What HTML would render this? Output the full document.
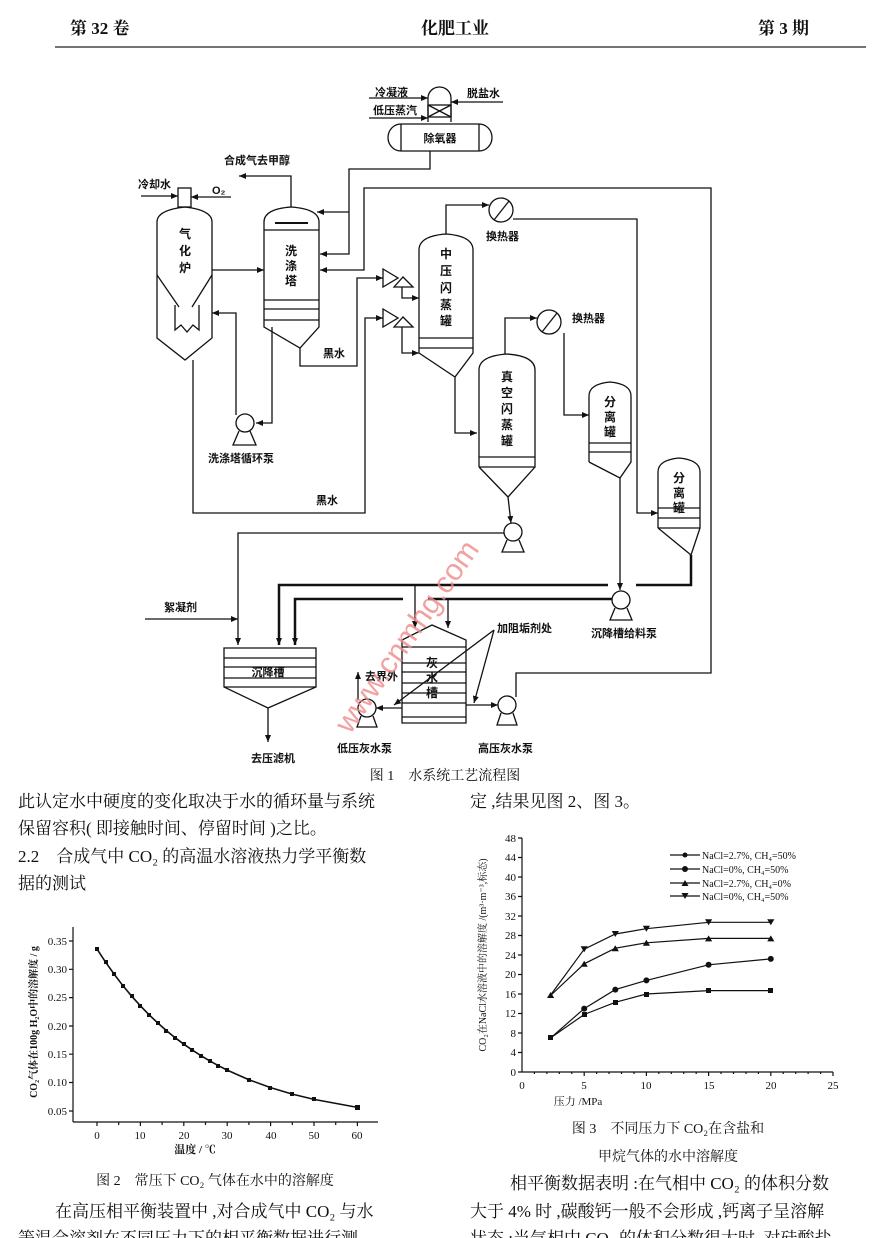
<!DOCTYPE html>
<html><head><meta charset="utf-8">
<style>
html,body{margin:0;padding:0;background:#fff;}
svg{display:block;}
.b{font-family:"Liberation Serif","Noto Serif CJK SC",serif;font-size:17px;fill:#111;}
.d{font-family:"Liberation Sans","Noto Sans CJK SC",sans-serif;font-size:11px;font-weight:bold;fill:#111;}
.v{font-family:"Liberation Sans","Noto Sans CJK SC",sans-serif;font-size:12px;font-weight:bold;fill:#111;text-anchor:middle;}
.t{font-family:"Liberation Serif","Noto Serif CJK SC",serif;font-size:11px;fill:#111;}
.c{font-family:"Liberation Serif","Noto Serif CJK SC",serif;font-size:14px;fill:#111;}
</style></head><body>
<svg width="888" height="1238" viewBox="0 0 888 1238" xmlns="http://www.w3.org/2000/svg">
<defs>
<marker id="a" markerWidth="7" markerHeight="6" refX="7" refY="3" orient="auto" markerUnits="userSpaceOnUse"><path d="M0,0 L7,3 L0,6 z" fill="#111"/></marker>
</defs>
<!-- header -->
<text x="70" y="34" class="b" style="font-weight:bold">第 32 卷</text>
<text x="455" y="34" class="b" text-anchor="middle" style="font-weight:bold">化肥工业</text>
<text x="758" y="34" class="b" style="font-weight:bold">第 3 期</text>
<line x1="55" y1="47" x2="866" y2="47" stroke="#222" stroke-width="1.2"/>

<g fill="none" stroke="#111" stroke-width="1.3">
<!-- deaerator -->
<path d="M428,122 V98 A11.5,11 0 0 1 451,98 V122"/>
<rect x="428" y="105" width="23" height="12"/>
<line x1="428" y1="105" x2="451" y2="117"/><line x1="451" y1="105" x2="428" y2="117"/>
<path d="M401,124 H479 A13,13.5 0 0 1 479,151 H401 A13,13.5 0 0 1 401,124 Z"/>
<line x1="401" y1="124" x2="401" y2="151"/><line x1="479" y1="124" x2="479" y2="151"/>
<line x1="369" y1="98" x2="428" y2="98" marker-end="url(#a)"/>
<line x1="369" y1="118" x2="428" y2="118" marker-end="url(#a)"/>
<line x1="503" y1="102" x2="451" y2="102" marker-end="url(#a)"/>
<polyline points="430,151 430,169 349,169 349,254 320,254" marker-end="url(#a)"/>
<line x1="349" y1="212" x2="317" y2="212" marker-end="url(#a)"/>
<!-- big loop -->
<polyline points="516,697 516,673 711,673 711,188 364,188 364,270 320,270" marker-end="url(#a)"/>
<!-- gasifier -->
<rect x="178" y="188" width="13" height="19"/>
<line x1="141" y1="196" x2="178" y2="196" marker-end="url(#a)"/>
<line x1="231" y1="197" x2="191" y2="197" marker-end="url(#a)"/>
<path d="M157,338 V222 Q157,210 185,207 Q212,210 212,222 V338 L185,360 Z"/>
<polyline points="157,275 179,307"/><polyline points="212,275 192,307"/>
<polyline points="175,305 175,330 181,325 187,332 193,325 199,330 199,305"/>
<line x1="212" y1="270" x2="264" y2="270" marker-end="url(#a)"/>
<!-- wash tower -->
<path d="M264,327 V222 Q264,209 291,207 Q319,209 319,222 V327 L300,348 Z"/>
<line x1="275" y1="223" x2="308" y2="223" stroke-width="2"/>
<line x1="264" y1="230" x2="319" y2="230"/>
<line x1="264" y1="300" x2="319" y2="300"/><line x1="264" y1="309" x2="319" y2="309"/><line x1="264" y1="320" x2="319" y2="320"/>
<polyline points="291,207 291,176 239,176" marker-end="url(#a)"/>
<polyline points="300,348 300,366 357,366 357,278 383,278" marker-end="url(#a)"/>
<polyline points="193,360 193,513 365,513 365,318 383,318" marker-end="url(#a)"/>
<!-- wash pump -->
<polyline points="272,327 272,423 256,423" marker-end="url(#a)"/>
<polyline points="236,415 236,313 212,313" marker-end="url(#a)"/>
<circle cx="245" cy="423" r="9"/><path d="M239,431 L233,445 H256 L250,431"/>
<!-- ejectors -->
<path d="M383,269 L398,278 L383,287 Z"/><path d="M394,287 L403,277 L413,287 Z"/>
<path d="M383,309 L398,318 L383,327 Z"/><path d="M394,327 L403,317 L413,327 Z"/>
<polyline points="402,287 402,298 419,298" marker-end="url(#a)"/>
<polyline points="402,327 402,353 419,353" marker-end="url(#a)"/>
<!-- MP flash -->
<path d="M419,353 V250 Q419,236 446,234 Q473,236 473,250 V353 L455,377 L419,353"/>
<line x1="419" y1="338" x2="473" y2="338"/><line x1="419" y1="348" x2="473" y2="348"/>
<polyline points="446,234 446,205 489,205" marker-end="url(#a)"/>
<circle cx="501" cy="210" r="12"/><line x1="494" y1="220" x2="509" y2="201"/>
<polyline points="513,219 637,219 637,513 658,513" marker-end="url(#a)"/>
<polyline points="455,377 455,433 477,433" marker-end="url(#a)"/>
<!-- vacuum flash -->
<path d="M479,467 V370 Q479,356 507,354 Q535,356 535,370 V467 L508,497 L479,467"/>
<line x1="479" y1="457" x2="535" y2="457"/><line x1="479" y1="467" x2="535" y2="467"/>
<polyline points="505,354 505,318 537,318" marker-end="url(#a)"/>
<circle cx="549" cy="322" r="12"/><line x1="542" y1="332" x2="557" y2="313"/>
<polyline points="564,333 564,415 589,415" marker-end="url(#a)"/>
<line x1="508" y1="497" x2="511" y2="523" marker-end="url(#a)"/>
<circle cx="513" cy="532" r="9"/><path d="M507,540 L502,552 H524 L519,540"/>
<polyline points="504,533 238,533 238,645" marker-end="url(#a)"/>
<!-- separator 1 -->
<path d="M589,462 V396 Q589,384 610,382 Q631,384 631,396 V462 L620,478 L589,462"/>
<line x1="589" y1="443" x2="631" y2="443"/><line x1="589" y1="452" x2="631" y2="452"/>
<line x1="620" y1="478" x2="620" y2="590" marker-end="url(#a)"/>
<circle cx="621" cy="600" r="9"/><path d="M615,608 L610,620 H632 L627,608"/>
<!-- separator 2 -->
<path d="M658,528 V472 Q658,460 679,458 Q700,460 700,472 V528 L691,555 L658,528"/>
<line x1="658" y1="508" x2="700" y2="508"/><line x1="658" y1="518" x2="700" y2="518"/><line x1="658" y1="528" x2="700" y2="528"/>
<!-- thick lines -->
<polyline points="691,555 691,585 636,585" stroke-width="2.5"/>
<polyline points="608,585 279,585 279,645" stroke-width="2.5" marker-end="url(#a)"/>
<polyline points="612,599 428,599" stroke-width="2.5"/>
<polyline points="403,599 295,599 295,645" stroke-width="2.5" marker-end="url(#a)"/>
<line x1="415" y1="585" x2="415" y2="628" marker-end="url(#a)"/>
<line x1="448" y1="599" x2="448" y2="628" marker-end="url(#a)"/>
<line x1="145" y1="619" x2="238" y2="619" marker-end="url(#a)"/>
<!-- settler -->
<path d="M224,648 H316 V687 L268,708 L224,687 Z"/>
<line x1="224" y1="658" x2="316" y2="658"/><line x1="224" y1="667" x2="316" y2="667"/><line x1="224" y1="678" x2="316" y2="678"/><line x1="224" y1="687" x2="316" y2="687"/>
<line x1="268" y1="708" x2="268" y2="742" marker-end="url(#a)"/>
<!-- ash tank -->
<path d="M402,723 V640 L432,625 L466,640 V723 Z"/>
<line x1="402" y1="647" x2="466" y2="647"/><line x1="402" y1="663" x2="466" y2="663"/><line x1="402" y1="672" x2="466" y2="672"/><line x1="402" y1="683" x2="466" y2="683"/><line x1="402" y1="693" x2="466" y2="693"/><line x1="402" y1="703" x2="466" y2="703"/><line x1="402" y1="717" x2="466" y2="717"/>
<line x1="494" y1="630" x2="394" y2="705" marker-end="url(#a)"/>
<line x1="494" y1="630" x2="474" y2="703" marker-end="url(#a)"/>
<line x1="402" y1="708" x2="376" y2="708" marker-end="url(#a)"/>
<circle cx="367" cy="708" r="9"/><path d="M361,716 L357,727 H377 L373,716"/>
<line x1="358" y1="700" x2="358" y2="672" marker-end="url(#a)"/>
<line x1="466" y1="705" x2="498" y2="705" marker-end="url(#a)"/>
<circle cx="507" cy="705" r="9"/><path d="M501,713 L497,725 H517 L513,713"/>
</g>
<!-- diagram labels -->
<text x="375" y="96" class="d">冷凝液</text>
<text x="373" y="114" class="d">低压蒸汽</text>
<text x="467" y="97" class="d">脱盐水</text>
<text x="440" y="142" class="d" text-anchor="middle">除氧器</text>
<text x="224" y="164" class="d">合成气去甲醇</text>
<text x="138" y="188" class="d">冷却水</text>
<text x="212" y="194" class="d">O₂</text>
<text x="185" y="238" class="v">气</text><text x="185" y="255" class="v">化</text><text x="185" y="272" class="v">炉</text>
<text x="291" y="255" class="v">洗</text><text x="291" y="270" class="v">涤</text><text x="291" y="285" class="v">塔</text>
<text x="446" y="258" class="v">中</text><text x="446" y="275" class="v">压</text><text x="446" y="292" class="v">闪</text><text x="446" y="309" class="v">蒸</text><text x="446" y="325" class="v">罐</text>
<text x="507" y="381" class="v">真</text><text x="507" y="397" class="v">空</text><text x="507" y="413" class="v">闪</text><text x="507" y="429" class="v">蒸</text><text x="507" y="445" class="v">罐</text>
<text x="610" y="406" class="v">分</text><text x="610" y="421" class="v">离</text><text x="610" y="436" class="v">罐</text>
<text x="679" y="482" class="v">分</text><text x="679" y="497" class="v">离</text><text x="679" y="512" class="v">罐</text>
<text x="486" y="240" class="d">换热器</text>
<text x="572" y="322" class="d">换热器</text>
<text x="323" y="357" class="d">黑水</text>
<text x="316" y="504" class="d">黑水</text>
<text x="208" y="462" class="d">洗涤塔循环泵</text>
<text x="164" y="611" class="d">絮凝剂</text>
<text x="268" y="676" class="d" text-anchor="middle">沉降槽</text>
<text x="432" y="667" class="v">灰</text><text x="432" y="682" class="v">水</text><text x="432" y="697" class="v">槽</text>
<text x="497" y="632" class="d">加阻垢剂处</text>
<text x="591" y="637" class="d">沉降槽给料泵</text>
<text x="365" y="680" class="d">去界外</text>
<text x="251" y="762" class="d">去压滤机</text>
<text x="337" y="752" class="d">低压灰水泵</text>
<text x="478" y="752" class="d">高压灰水泵</text>
<text x="445" y="780" class="c" text-anchor="middle">图 1　水系统工艺流程图</text>
<text x="0" y="0" transform="translate(350,735) rotate(-55)" style="font-family:'Liberation Sans',sans-serif;font-size:30px;fill:#f08a8a;opacity:0.8">www.cnmhg.com</text>

<!-- body text -->
<text x="18" y="807" class="b">此认定水中硬度的变化取决于水的循环量与系统</text>
<text x="18" y="834" class="b">保留容积( 即接触时间、停留时间 )之比。</text>
<text x="18" y="862" class="b">2.2　合成气中 CO₂ 的高温水溶液热力学平衡数</text>
<text x="18" y="889" class="b">据的测试</text>
<text x="470" y="807" class="b">定 ,结果见图 2、图 3。</text>

<!-- chart 2 -->
<g stroke="#111" fill="none" stroke-width="1.2">
<line x1="73" y1="927" x2="73" y2="1122"/><line x1="73" y1="1122" x2="378" y2="1122"/>
<path d="M73,941h-4M73,969.3h-4M73,997.6h-4M73,1026h-4M73,1054.2h-4M73,1082.5h-4M73,1111h-4M97,1122v4M140.4,1122v4M183.8,1122v4M227.2,1122v4M270.6,1122v4M314,1122v4M357.4,1122v4M118.7,1122v3M162.1,1122v3M205.5,1122v3M248.9,1122v3M292.3,1122v3M335.7,1122v3"/>
<polyline stroke-width="1.6" points="97,949.1 105.7,962.3 114.4,974.5 123,985.8 131.7,996.2 140.4,1005.8 149.1,1014.8 157.8,1023 166.4,1030.6 175.1,1037.7 183.8,1044.2 192.5,1050.2 201.2,1055.8 209.8,1060.9 218.5,1065.7 227.2,1070.1 248.9,1079.7 270.6,1087.6 292.3,1094.1 314,1099.4 357.4,1107.4"/>
</g>
<g fill="#111">
<rect x="95" y="947" width="4" height="4"/><rect x="104" y="960" width="4" height="4"/><rect x="112" y="972" width="4" height="4"/><rect x="121" y="984" width="4" height="4"/><rect x="130" y="994" width="4" height="4"/><rect x="138" y="1004" width="4" height="4"/><rect x="147" y="1013" width="4" height="4"/><rect x="156" y="1021" width="4" height="4"/><rect x="164" y="1029" width="4" height="4"/><rect x="173" y="1036" width="4" height="4"/><rect x="182" y="1042" width="4" height="4"/><rect x="190" y="1048" width="4" height="4"/><rect x="199" y="1054" width="4" height="4"/><rect x="208" y="1059" width="4" height="4"/><rect x="216" y="1064" width="4" height="4"/><rect x="225" y="1068" width="4" height="4"/><rect x="247" y="1078" width="4" height="4"/><rect x="268" y="1086" width="4" height="4"/><rect x="290" y="1092" width="4" height="4"/><rect x="312" y="1097" width="4" height="4"/><rect x="355" y="1105" width="5" height="5"/>
</g>
<g class="t" text-anchor="end">
<text x="67" y="945">0.35</text><text x="67" y="973">0.30</text><text x="67" y="1001">0.25</text><text x="67" y="1030">0.20</text><text x="67" y="1058">0.15</text><text x="67" y="1086">0.10</text><text x="67" y="1115">0.05</text>
</g>
<g class="t" text-anchor="middle">
<text x="97" y="1139">0</text><text x="140" y="1139">10</text><text x="184" y="1139">20</text><text x="227" y="1139">30</text><text x="271" y="1139">40</text><text x="314" y="1139">50</text><text x="357" y="1139">60</text>
</g>
<text x="195" y="1153" class="t" text-anchor="middle" style="font-weight:bold">温度 / ℃</text>
<text transform="translate(37,1022) rotate(-90)" class="t" text-anchor="middle" style="font-size:10px;font-weight:bold">CO₂气体在100g H₂O中的溶解度 / g</text>
<text x="215" y="1185" class="c" text-anchor="middle">图 2　常压下 CO₂ 气体在水中的溶解度</text>

<!-- chart 3 -->
<g stroke="#111" fill="none" stroke-width="1.2">
<line x1="522" y1="838" x2="522" y2="1072"/><line x1="522" y1="1072" x2="833" y2="1072"/>
<path d="M522,1072h-4M522,1052.5h-4M522,1033h-4M522,1013.5h-4M522,994h-4M522,974.5h-4M522,955h-4M522,935.5h-4M522,916h-4M522,896.5h-4M522,877h-4M522,857.5h-4M522,838h-4M584.2,1072v4M646.4,1072v4M708.6,1072v4M770.8,1072v4M833,1072v4M534.4,1072v2M546.9,1072v2M559.3,1072v2M571.8,1072v2M596.6,1072v2M609,1072v2M621.5,1072v2M634,1072v2M658.8,1072v2M671.3,1072v2M683.7,1072v2M696.2,1072v2M721,1072v2M733.5,1072v2M746,1072v2M758.4,1072v2M783.2,1072v2M795.7,1072v2M808.1,1072v2M820.6,1072v2"/>
<polyline points="550.6,1037.9 584.2,1014.5 615.3,1002.3 646.4,994 708.6,990.6 770.8,990.6"/>
<polyline points="550.6,1037.9 584.2,1008.6 615.3,989.6 646.4,980.4 708.6,964.8 770.8,958.9"/>
<polyline points="550.6,995.5 584.2,963.8 615.3,948.2 646.4,942.8 708.6,938.4 770.8,938.4"/>
<polyline points="550.6,995 584.2,949.2 615.3,934 646.4,928.7 708.6,922.3 770.8,922.3"/>
<line x1="670" y1="855" x2="700" y2="855"/><line x1="670" y1="869" x2="700" y2="869"/><line x1="670" y1="883" x2="700" y2="883"/><line x1="670" y1="896" x2="700" y2="896"/>
</g>
<g fill="#111">
<rect x="548" y="1035" width="5" height="5"/><rect x="582" y="1012" width="5" height="5"/><rect x="613" y="1000" width="5" height="5"/><rect x="644" y="992" width="5" height="5"/><rect x="706" y="988" width="5" height="5"/><rect x="768" y="988" width="5" height="5"/>
<circle cx="584.2" cy="1008.6" r="3"/><circle cx="615.3" cy="989.6" r="3"/><circle cx="646.4" cy="980.4" r="3"/><circle cx="708.6" cy="964.8" r="3"/><circle cx="770.8" cy="958.9" r="3"/>
<path d="M547,998l3.6-6 3.6,6zM580.6,966.8l3.6-6 3.6,6zM611.7,951.2l3.6-6 3.6,6zM642.8,945.8l3.6-6 3.6,6zM705,941.4l3.6-6 3.6,6zM767.2,941.4l3.6-6 3.6,6z"/>
<path d="M580.6,946.2l3.6,6 3.6-6zM611.7,931l3.6,6 3.6-6zM642.8,925.7l3.6,6 3.6-6zM705,919.3l3.6,6 3.6-6zM767.2,919.3l3.6,6 3.6-6z"/>
<circle cx="685" cy="855" r="2.5"/><circle cx="685" cy="869" r="3"/><path d="M681.5,886l3.5-6 3.5,6z"/><path d="M681.5,893l3.5,6 3.5-6z"/>
</g>
<g class="t" text-anchor="end">
<text x="516" y="1076">0</text><text x="516" y="1056">4</text><text x="516" y="1037">8</text><text x="516" y="1017">12</text><text x="516" y="998">16</text><text x="516" y="978">20</text><text x="516" y="959">24</text><text x="516" y="939">28</text><text x="516" y="920">32</text><text x="516" y="900">36</text><text x="516" y="881">40</text><text x="516" y="861">44</text><text x="516" y="842">48</text>
</g>
<g class="t" text-anchor="middle">
<text x="522" y="1089">0</text><text x="584" y="1089">5</text><text x="646" y="1089">10</text><text x="709" y="1089">15</text><text x="771" y="1089">20</text><text x="833" y="1089">25</text>
</g>
<g class="t" style="font-size:10px">
<text x="702" y="859">NaCl=2.7%,  CH₄=50%</text>
<text x="702" y="873">NaCl=0%,     CH₄=50%</text>
<text x="702" y="887">NaCl=2.7%,  CH₄=0%</text>
<text x="702" y="900">NaCl=0%,     CH₄=50%</text>
</g>
<text x="578" y="1105" class="t" text-anchor="middle">压力 /MPa</text>
<text transform="translate(486,955) rotate(-90)" class="t" text-anchor="middle" style="font-size:10px">CO₂在NaCl水溶液中的溶解度 /(m³·m⁻³,标态)</text>
<text x="668" y="1133" class="c" text-anchor="middle">图 3　不同压力下 CO₂在含盐和</text>
<text x="668" y="1161" class="c" text-anchor="middle">甲烷气体的水中溶解度</text>

<!-- bottom text -->
<text x="55" y="1217" class="b">在高压相平衡装置中 ,对合成气中 CO₂ 与水</text>
<text x="18" y="1244" class="b">等温合溶剂在不同压力下的相平衡数据进行测</text>
<text x="510" y="1189" class="b">相平衡数据表明 :在气相中 CO₂ 的体积分数</text>
<text x="470" y="1217" class="b">大于 4% 时 ,碳酸钙一般不会形成 ,钙离子呈溶解</text>
<text x="470" y="1244" class="b">状态 ;当气相中 CO₂ 的体积分数很大时 ,对硅酸盐</text>
</svg>
</body></html>
